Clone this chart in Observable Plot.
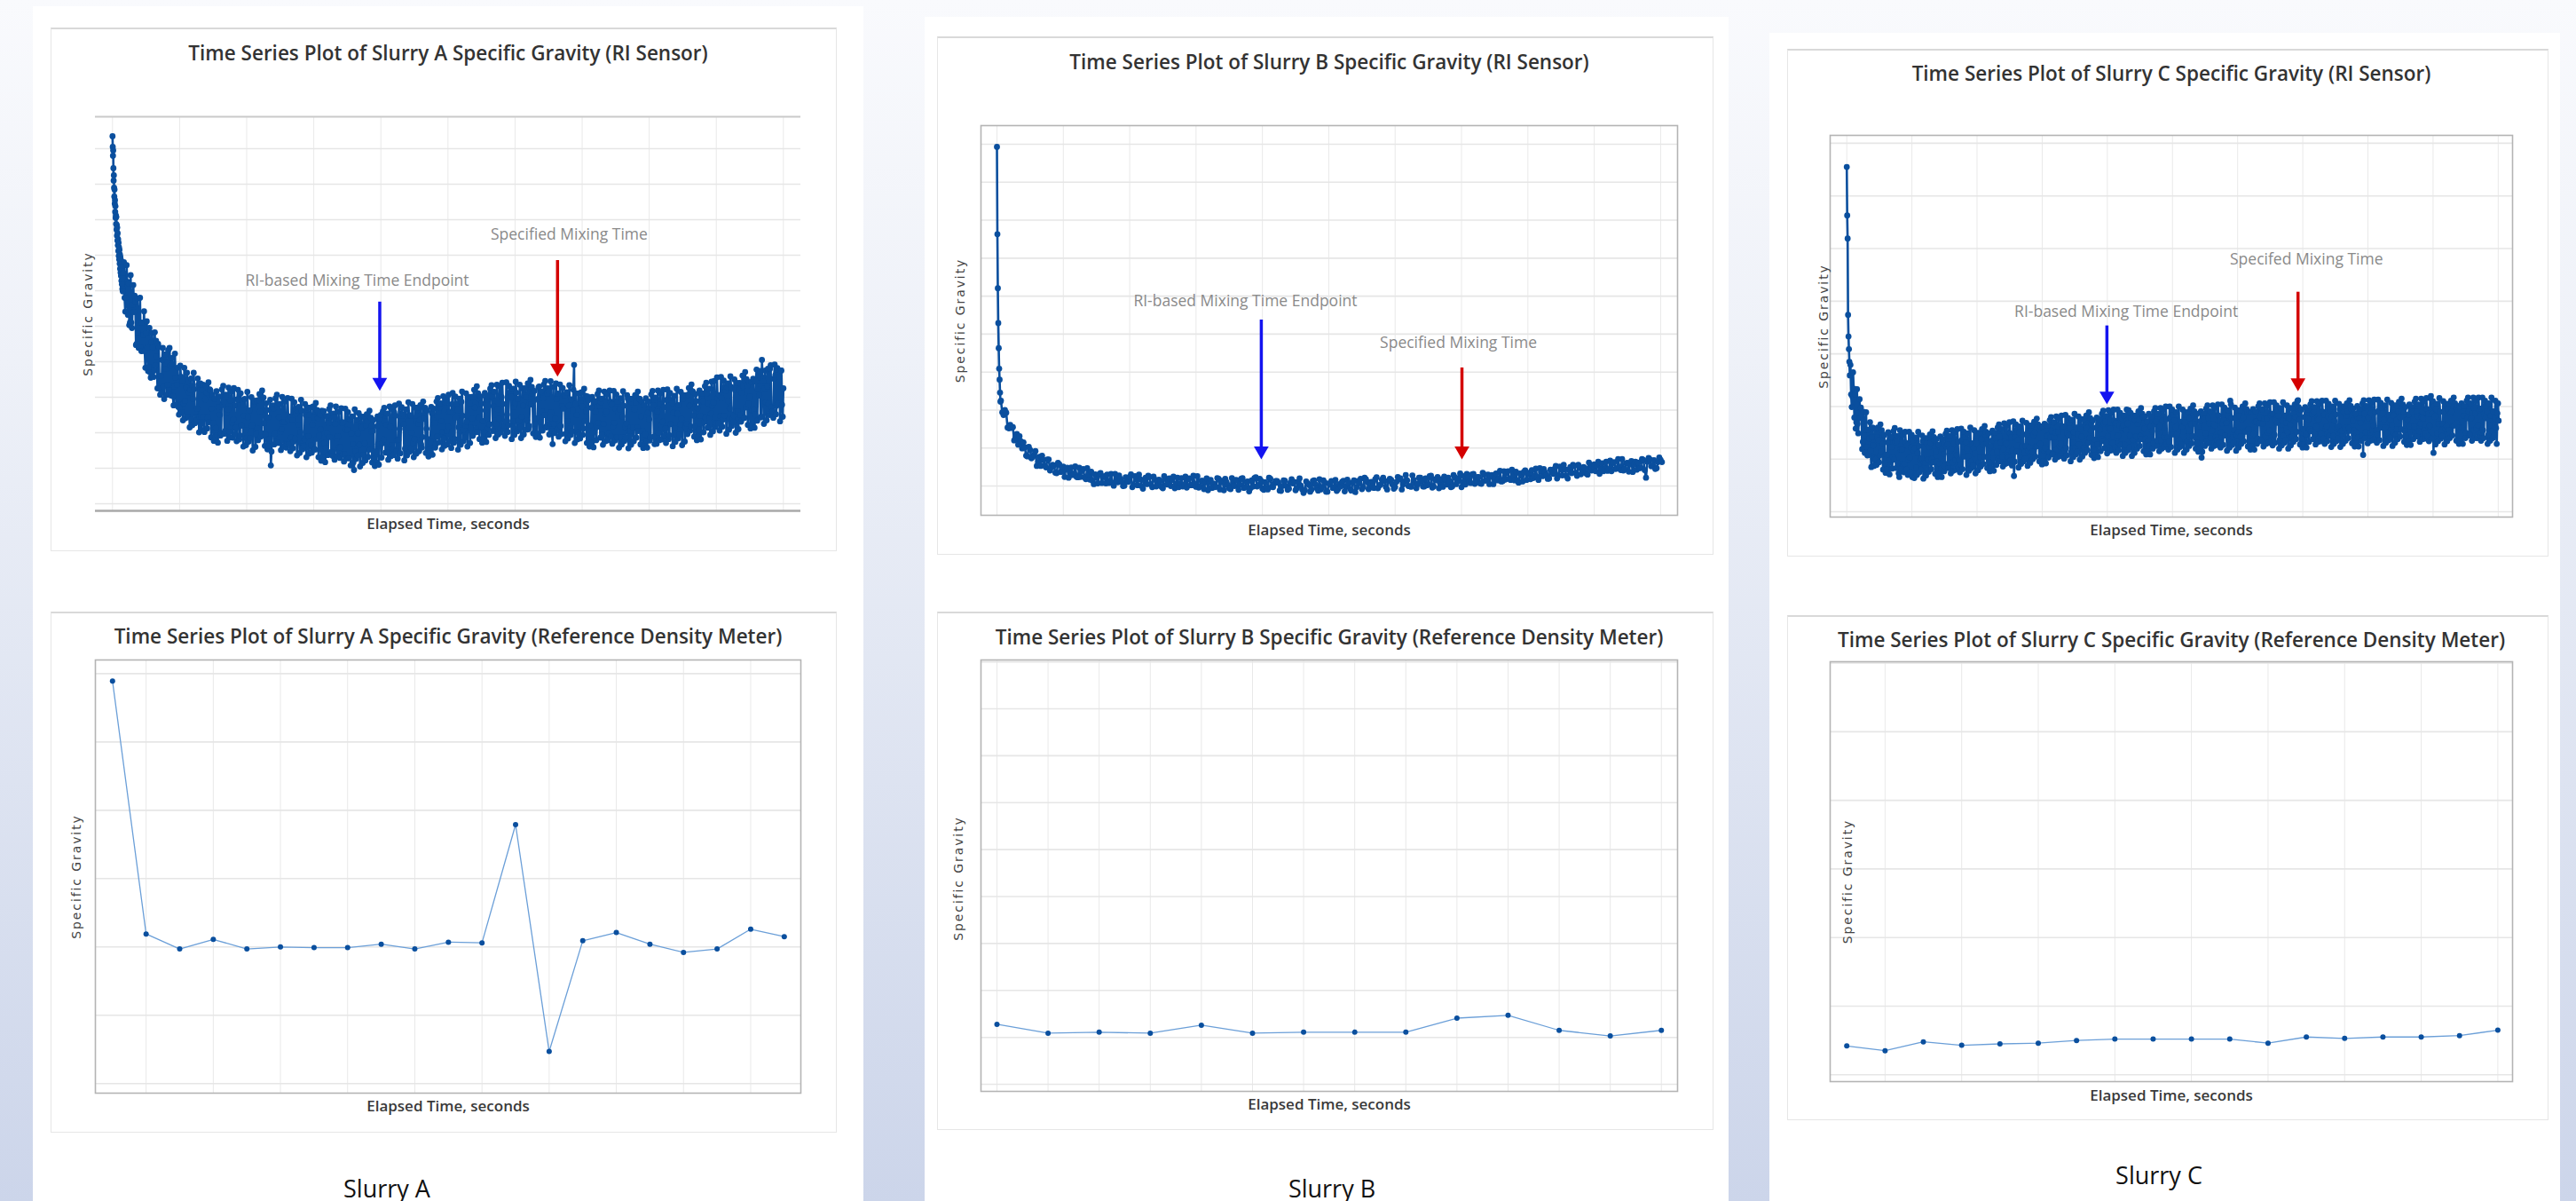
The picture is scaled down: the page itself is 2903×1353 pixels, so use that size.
<!DOCTYPE html>
<html><head><meta charset="utf-8">
<script src="https://cdn.jsdelivr.net/npm/d3@7"></script>
<script src="https://cdn.jsdelivr.net/npm/@observablehq/plot@0.6"></script>
<style>
html,body{margin:0;padding:0;}
body{width:2903px;height:1353px;overflow:hidden;position:relative;
  background:linear-gradient(180deg,#f9fafd 0%,#eef1f8 30%,#dde3f1 65%,#ccd5ea 100%);
  font-family:"Open Sans",sans-serif;}
.col{position:absolute;background:#fff;}
.card{position:absolute;background:#fff;border:1.5px solid #e6e6e6;border-top:2px solid #d9d9d9;box-sizing:border-box;}
.plotbox{position:absolute;}
.plotbox svg{display:block;}
.caption{position:absolute;transform:translate(-50%,-50%);font-size:27px;color:#111;white-space:nowrap;font-family:"Open Sans",sans-serif;}
</style></head><body>
<script>
// ---------------- DATA ----------------
// RI sensor series: a dense "head" right after start, then the band sampled every 6 s,
// plus (A, C) the readings taken half-way between those samples.
const slurryA_riHeadSG = [1.3035,1.3005,1.2980,1.2995,1.2945,1.2910,1.2925,1.2890,1.2865,1.2885,1.2845,1.2855,1.2822,1.2838,1.2805,1.2812,1.2788,1.2808,1.2772,1.2785,1.2755,1.2778,1.2741,1.2762,1.2728,1.2745,1.2712,1.2735,1.2698,1.2722,1.2688,1.2715,1.2676,1.2702,1.2662,1.2695,1.2651,1.2688,1.2642,1.2675,1.2628,1.2668,1.2618,1.2655,1.2605,1.2648,1.2598,1.2637];
const slurryA_riSG = [
1.265,1.258,1.258,1.2625,1.262,1.251,1.251,1.256,1.254,1.257,1.245,1.248,1.251,1.244,1.251,1.2475,1.243,1.248,1.244,1.2385,
1.237,1.2455,1.244,1.2375,1.239,1.2415,1.245,1.2325,1.236,1.2405,1.233,1.2415,1.238,1.2335,1.232,1.2388,1.2395,1.2303,1.233,1.2355,
1.2335,1.2273,1.227,1.2358,1.2345,1.2283,1.229,1.2328,1.2245,1.2313,1.232,1.2238,1.2295,1.2323,1.226,1.2268,1.2335,1.2245,1.2245,1.232,
1.2245,1.2294,1.2313,1.2242,1.223,1.2319,1.2268,1.2227,1.2295,1.2214,1.2193,1.2272,1.225,1.2199,1.2278,1.2287,1.2205,1.2255,1.2265,1.2203,
1.229,1.2229,1.2238,1.2277,1.2215,1.2294,1.2293,1.2192,1.222,1.2279,1.2248,1.2207,1.2185,1.2244,1.2263,1.2212,1.222,1.2279,1.2288,1.2196,
1.2213,1.2292,1.226,1.2199,1.2298,1.2227,1.2195,1.2264,1.2243,1.2182,1.2108,1.2269,1.2268,1.2197,1.2175,1.2274,1.2243,1.2202,1.221,1.223,
1.223,1.2169,1.2168,1.2237,1.2246,1.2186,1.2235,1.2175,1.2184,1.2254,1.2263,1.2223,1.2202,1.2262,1.2171,1.2181,1.225,1.219,1.219,1.225,
1.2165,1.2223,1.2244,1.2152,1.2183,1.2241,1.2192,1.221,1.2262,1.2169,1.2171,1.2158,1.2199,1.2227,1.2188,1.2146,1.2135,1.2244,1.2225,1.2182,
1.219,1.2159,1.2159,1.2229,1.2229,1.2139,1.2209,1.2208,1.2128,1.2238,1.2198,1.2168,1.2095,1.2148,1.2236,1.2198,1.2166,1.2218,1.2215,1.2138,
1.217,1.2221,1.2232,1.2153,1.2153,1.2204,1.2205,1.2126,1.2147,1.2218,1.2168,1.2239,1.225,1.217,1.2181,1.2232,1.2223,1.2154,1.2145,1.2217,
1.2165,1.2156,1.2257,1.2248,1.2179,1.218,1.2211,1.2232,1.2233,1.2224,1.2155,1.2156,1.2197,1.2248,1.2249,1.22,1.2171,1.2182,1.2233,1.2264,
1.2225,1.2236,1.2167,1.2188,1.2239,1.227,1.2211,1.2182,1.2153,1.2174,1.2255,1.2236,1.2227,1.2168,1.2189,1.226,1.2271,1.2233,1.2203,1.2184,
1.2285,1.2206,1.2217,1.2258,1.2259,1.228,1.2181,1.2182,1.2243,1.2264,1.2215,1.2206,1.2287,1.2248,1.2209,1.222,1.2231,1.2292,1.2283,1.2214,
1.224,1.2301,1.2271,1.2211,1.2202,1.2242,1.2293,1.2282,1.2233,1.2203,1.2263,1.2293,1.2213,1.2224,1.2313,1.2304,1.2275,1.2235,1.2225,1.2265,
1.224,1.2211,1.23,1.2281,1.222,1.2231,1.2251,1.2221,1.2312,1.2302,1.2233,1.2273,1.2284,1.2313,1.2295,1.2235,1.2216,1.2245,1.2276,1.2305,
1.23,1.2235,1.221,1.2285,1.228,1.231,1.229,1.2225,1.224,1.2295,1.233,1.223,1.226,1.2297,1.225,1.2217,1.231,1.2317,1.2225,1.2257,
1.2168,1.2225,1.224,1.2295,1.231,1.2206,1.2219,1.2275,1.2268,1.2305,1.2197,1.2233,1.2276,1.2213,1.2294,1.2262,1.2391,1.2281,1.225,1.2201,
1.2195,1.2283,1.2274,1.2212,1.2233,1.2261,1.2302,1.2181,1.2221,1.227,1.22,1.2289,1.2259,1.2216,1.2228,1.2275,1.2286,1.2194,1.2225,1.2253,
1.226,1.2199,1.2199,1.2288,1.2279,1.2218,1.2228,1.2267,1.2187,1.2257,1.2266,1.2187,1.2246,1.2276,1.2216,1.2226,1.2296,1.2205,1.2205,1.2285,
1.2215,1.2265,1.2285,1.2215,1.2205,1.2295,1.2246,1.2205,1.2277,1.2195,1.2177,1.2256,1.2238,1.2187,1.2268,1.2277,1.2168,1.2248,1.226,1.22,
1.228,1.2222,1.2231,1.2272,1.2212,1.2292,1.2293,1.2193,1.2224,1.2283,1.2256,1.2213,1.2197,1.2254,1.2278,1.2224,1.2239,1.2295,1.2305,1.2217,
1.2225,1.2307,1.2276,1.2218,1.2317,1.2248,1.2218,1.2289,1.2269,1.2209,1.2248,1.2299,1.2289,1.223,1.2242,1.2311,1.2283,1.2242,1.2254,1.2276,
1.2285,1.2227,1.2226,1.2297,1.2306,1.2247,1.2297,1.2237,1.2248,1.2318,1.2328,1.2289,1.2269,1.2329,1.2239,1.2249,1.232,1.226,1.226,1.2321,
1.225,1.2312,1.2331,1.2242,1.2271,1.2332,1.2282,1.2302,1.2343,1.2262,1.2264,1.2252,1.2378,1.2323,1.2305,1.2243,1.2405,1.2345,1.2325,1.2286,
1.233,1.2282,1.238,1.2271,1.226,1.2352,1.2362,1.2276,1.2283,1.2357,1.2375,1.2279,1.2325];
const slurryA_riMidSG = [
1.268,1.2541,1.2672,1.2532,1.2503,1.2644,1.2495,1.2616,1.2586,1.2447,1.2578,1.2439,1.258,1.243,1.2431,1.2542,1.2383,1.2514,1.2374,1.2495,
1.2355,1.2481,1.2357,1.2483,1.2459,1.2325,1.2441,1.2307,1.2313,1.2439,1.2295,1.2421,1.2307,1.2433,1.2439,1.2305,1.2411,1.2277,1.2423,1.2279,
1.2383,1.2251,1.2389,1.2257,1.2235,1.2383,1.2241,1.2369,1.2347,1.2215,1.2353,1.2221,1.2369,1.2227,1.2235,1.2353,1.2201,1.2339,1.2207,1.2335,
1.2202,1.2332,1.2212,1.2342,1.2322,1.2187,1.2307,1.2177,1.2187,1.2317,1.2172,1.2302,1.2192,1.2322,1.2332,1.2197,1.2307,1.2177,1.2327,1.2187,
1.2316,1.2186,1.2326,1.2196,1.2176,1.2321,1.2181,1.2311,1.2291,1.2161,1.2295,1.2165,1.2315,1.2175,1.2185,1.23,1.215,1.229,1.216,1.229,
1.2179,1.2309,1.2189,1.2319,1.2299,1.2163,1.2283,1.2153,1.2163,1.2293,1.2147,1.2277,1.2167,1.2297,1.2307,1.2171,1.2281,1.2151,1.2301,1.2161,
1.2288,1.2158,1.2298,1.2168,1.2148,1.2296,1.2156,1.2286,1.2266,1.2136,1.2273,1.2143,1.2293,1.2153,1.2163,1.2281,1.2131,1.2271,1.2141,1.2271,
1.2144,1.2274,1.2154,1.2284,1.2264,1.2131,1.2251,1.2121,1.2131,1.2261,1.2117,1.2247,1.2137,1.2267,1.2277,1.2144,1.2254,1.2124,1.2274,1.2134,
1.2259,1.2129,1.2269,1.2139,1.2119,1.2268,1.2128,1.2258,1.2238,1.2108,1.2246,1.2116,1.2266,1.2126,1.2136,1.2255,1.2105,1.2245,1.2115,1.2245,
1.2122,1.2252,1.2132,1.2262,1.2242,1.2116,1.2236,1.2106,1.2116,1.2246,1.211,1.224,1.213,1.226,1.227,1.2144,1.2254,1.2124,1.2274,1.2134,
1.2267,1.2137,1.2277,1.2147,1.2127,1.2282,1.2142,1.2272,1.2252,1.2122,1.2266,1.2136,1.2286,1.2146,1.2156,1.2281,1.2131,1.2271,1.2141,1.2271,
1.2148,1.2278,1.2158,1.2288,1.2268,1.2143,1.2263,1.2133,1.2143,1.2273,1.2138,1.2268,1.2158,1.2288,1.2298,1.2173,1.2283,1.2153,1.2303,1.2163,
1.2297,1.2167,1.2307,1.2177,1.2157,1.2312,1.2172,1.2302,1.2282,1.2152,1.2296,1.2166,1.2316,1.2176,1.2186,1.2311,1.2161,1.2301,1.2171,1.2301,
1.2191,1.2321,1.2201,1.2331,1.2311,1.2182,1.2302,1.2172,1.2182,1.2312,1.2174,1.2304,1.2194,1.2324,1.2334,1.2205,1.2315,1.2185,1.2335,1.2195,
1.2331,1.2201,1.2341,1.2211,1.2191,1.2342,1.2202,1.2332,1.2312,1.2182,1.2324,1.2194,1.2344,1.2204,1.2214,1.2335,1.2185,1.2325,1.2195,1.2325,
1.2209,1.2339,1.2219,1.2349,1.2329,1.2198,1.2318,1.2188,1.2198,1.2328,1.2186,1.2316,1.2206,1.2336,1.2346,1.2215,1.2325,1.2195,1.2345,1.2205,
1.2329,1.2199,1.2339,1.2209,1.2189,1.2336,1.2196,1.2326,1.2306,1.2176,1.2314,1.2184,1.2334,1.2194,1.2204,1.2321,1.2171,1.2311,1.2181,1.2311,
1.2184,1.2314,1.2194,1.2324,1.2304,1.2171,1.2291,1.2161,1.2171,1.2301,1.2159,1.2289,1.2179,1.2309,1.2319,1.2186,1.2296,1.2166,1.2316,1.2176,
1.2309,1.2179,1.2319,1.2189,1.2169,1.2318,1.2178,1.2308,1.2288,1.2158,1.2297,1.2167,1.2317,1.2177,1.2187,1.2306,1.2156,1.2296,1.2166,1.2296,
1.2176,1.2306,1.2186,1.2316,1.2296,1.2167,1.2287,1.2157,1.2167,1.2297,1.2158,1.2288,1.2178,1.2308,1.2318,1.2189,1.2299,1.2169,1.2319,1.2179,
1.2311,1.2181,1.2321,1.2191,1.2171,1.2322,1.2182,1.2312,1.2292,1.2162,1.2304,1.2174,1.2324,1.2184,1.2194,1.2315,1.2165,1.2305,1.2175,1.2305,
1.2196,1.2326,1.2206,1.2336,1.2316,1.2189,1.2309,1.2179,1.2189,1.2319,1.2181,1.2311,1.2201,1.2331,1.2341,1.2214,1.2324,1.2194,1.2344,1.2204,
1.2346,1.2216,1.2356,1.2226,1.2206,1.2357,1.2217,1.2347,1.2327,1.2197,1.2339,1.2209,1.2359,1.2219,1.2229,1.235,1.22,1.234,1.221,1.234,
1.2231,1.2361,1.2241,1.2371,1.2351,1.2222,1.2342,1.2212,1.2222,1.2352,1.2214,1.2344,1.2234,1.2364,1.2374,1.2245,1.2355,1.2225,1.2375,1.2235,
1.238,1.225,1.239,1.226,1.2242,1.2392,1.2252,1.2382,1.2362,1.2232,1.2375,1.2245];

const slurryB_riHeadSG = [1.1893,1.1663,1.1521,1.1429,1.1363,1.1309,1.1280,1.1246,1.1222];
const slurryB_riSG = [
1.1225,1.1194,1.1187,1.1200,1.1193,1.1154,1.1152,1.1161,1.1153,1.1155,1.1120,1.1128,1.1137,1.1109,1.1131,1.1118,1.1099,1.1115,1.1102,1.1080,
1.1078,1.1103,1.1095,1.1073,1.1077,1.1083,1.1092,1.1053,1.1063,1.1077,1.1053,1.1080,1.1069,1.1054,1.1049,1.1070,1.1070,1.1041,1.1049,1.1056,
1.1054,1.1035,1.1034,1.1061,1.1057,1.1037,1.1038,1.1051,1.1024,1.1046,1.1048,1.1022,1.1040,1.1049,1.1029,1.1032,1.1052,1.1024,1.1023,1.1048,
1.1024,1.1040,1.1045,1.1023,1.1018,1.1047,1.1030,1.1017,1.1038,1.1014,1.1005,1.1031,1.1023,1.1007,1.1031,1.1034,1.1008,1.1024,1.1026,1.1007,
1.1030,1.1008,1.1014,1.1032,1.1008,1.1001,1.1032,1.1023,1.1010,1.1028,1.1019,1.1011,1.1000,1.1001,1.1023,1.1018,1.1011,1.1024,1.1031,1.0997,
1.1003,1.1026,1.1018,1.1002,1.1030,1.1018,1.1000,1.0993,1.1015,1.1022,1.1005,1.1027,1.1024,1.1005,1.0997,1.1025,1.1017,1.0999,1.1008,1.1017,
1.1013,1.0998,1.0994,1.1026,1.1019,1.1004,1.1016,1.1020,1.1000,1.1016,1.1025,1.0994,1.1006,1.1022,1.0997,1.1007,1.1021,1.0999,1.1003,1.1025,
1.0996,1.1018,1.1020,1.1002,1.1002,1.1027,1.1005,1.0998,1.1026,1.0996,1.0999,1.1014,1.1014,1.0992,1.1010,1.1020,1.0989,1.1010,1.1016,1.0995,
1.1007,1.0997,1.0998,1.1021,1.1019,1.0991,1.1013,1.1013,1.0989,1.1019,1.1010,1.1002,1.0994,1.0992,1.1021,1.1010,1.1000,1.1016,1.1015,1.0990,
1.1003,1.1019,1.1021,1.0995,1.0997,1.1011,1.1012,1.0986,1.0994,1.1015,1.0999,1.1021,1.1023,1.0999,1.1002,1.1019,1.1014,1.0993,1.0990,1.1010,
1.0995,1.0991,1.1022,1.1019,1.0998,1.0997,1.1007,1.1013,1.1013,1.1009,1.0988,1.0987,1.1000,1.1015,1.1014,1.1000,1.0990,1.0993,1.1008,1.1018,
1.1007,1.1011,1.0989,1.0995,1.1010,1.1020,1.1001,1.0991,1.0982,1.0989,1.1012,1.1007,1.1003,1.0985,1.0991,1.1013,1.1015,1.1004,1.0994,1.0988,
1.1018,1.0991,1.0997,1.1015,1.1009,1.0985,1.0985,1.1007,1.1004,1.1013,1.0995,1.0996,1.1016,1.0987,1.0992,1.1005,1.0999,1.1011,1.1014,1.0986,
1.0999,1.1017,1.1008,1.0993,1.0988,1.1009,1.1015,1.0984,1.0997,1.1013,1.1007,1.1019,1.0992,1.0997,1.1022,1.1018,1.1010,1.0992,1.0996,1.1011,
1.1000,1.0995,1.1018,1.1023,1.0994,1.1001,1.1004,1.1017,1.1022,1.1013,1.0998,1.0991,1.1013,1.1019,1.1016,1.1004,1.0993,1.0997,1.1011,1.1024,
1.1018,1.1020,1.0991,1.1004,1.1012,1.1029,1.1015,1.1000,1.1000,1.0998,1.1028,1.1016,1.1007,1.0994,1.1004,1.1022,1.1022,1.1013,1.0999,1.0999,
1.1020,1.1002,1.1005,1.1026,1.1027,1.0996,1.0999,1.1018,1.1015,1.1024,1.0994,1.1007,1.1018,1.0998,1.1025,1.1016,1.1004,1.1022,1.1013,1.0997,
1.0999,1.1029,1.1023,1.1005,1.1012,1.1021,1.1033,1.0997,1.1010,1.1026,1.1004,1.1032,1.1022,1.1011,1.1008,1.1031,1.1032,1.1006,1.1015,1.1024,
1.1024,1.1007,1.1006,1.1035,1.1031,1.1014,1.1016,1.1030,1.1005,1.1026,1.1029,1.1005,1.1024,1.1033,1.1015,1.1019,1.1040,1.1012,1.1013,1.1039,
1.1017,1.1034,1.1039,1.1019,1.1016,1.1043,1.1029,1.1015,1.1038,1.1014,1.1009,1.1033,1.1027,1.1012,1.1037,1.1041,1.1016,1.1032,1.1035,1.1018,
1.1042,1.1021,1.1028,1.1046,1.1023,1.1016,1.1047,1.1038,1.1026,1.1045,1.1036,1.1029,1.1019,1.1020,1.1043,1.1038,1.1032,1.1045,1.1053,1.1020,
1.1027,1.1051,1.1043,1.1028,1.1056,1.1044,1.1027,1.1020,1.1043,1.1050,1.1034,1.1056,1.1053,1.1035,1.1027,1.1056,1.1049,1.1031,1.1040,1.1050,
1.1047,1.1033,1.1030,1.1062,1.1055,1.1041,1.1053,1.1057,1.1039,1.1054,1.1064,1.1032,1.1047,1.1060,1.1039,1.1046,1.1064,1.1040,1.1044,1.1067,
1.1039,1.1061,1.1063,1.1045,1.1046,1.1071,1.1050,1.1042,1.1071,1.1041,1.1045,1.1060,1.1061,1.1038,1.1058,1.1066,1.1037,1.1058,1.1064,1.1043,
1.1062,1.1047,1.1048,1.1071,1.1069,1.1042,1.1022,1.1064,1.1074,1.1070,1.1052,1.1054,1.1068,1.1045,1.1047,1.1063,1.1075,1.1069,1.1063];

const slurryC_riHeadSG = [1.2055,1.1963,1.1919,1.1774,1.1733,1.1709,1.1685];
const slurryC_riSG = [
1.1659,1.1623,1.1619,1.1634,1.1623,1.1570,1.1567,1.1588,1.1578,1.1585,1.1533,1.1545,1.1556,1.1523,1.1556,1.1539,1.1516,1.1542,1.1526,1.1502,
1.1500,1.1542,1.1536,1.1507,1.1515,1.1529,1.1546,1.1492,1.1508,1.1532,1.1498,1.1540,1.1523,1.1505,1.1499,1.1532,1.1534,1.1492,1.1466,1.1518,
1.1518,1.1490,1.1491,1.1531,1.1526,1.1499,1.1503,1.1522,1.1466,1.1517,1.1521,1.1484,1.1512,1.1525,1.1498,1.1502,1.1534,1.1493,1.1493,1.1530,
1.1499,1.1523,1.1531,1.1500,1.1494,1.1536,1.1514,1.1495,1.1527,1.1491,1.1482,1.1519,1.1510,1.1487,1.1524,1.1528,1.1493,1.1516,1.1520,1.1494,
1.1530,1.1498,1.1507,1.1533,1.1499,1.1490,1.1536,1.1523,1.1505,1.1532,1.1520,1.1506,1.1492,1.1495,1.1530,1.1521,1.1511,1.1530,1.1544,1.1494,
1.1504,1.1538,1.1527,1.1505,1.1547,1.1529,1.1502,1.1494,1.1525,1.1535,1.1512,1.1545,1.1540,1.1514,1.1500,1.1543,1.1532,1.1505,1.1519,1.1533,
1.1530,1.1507,1.1503,1.1549,1.1541,1.1517,1.1468,1.1541,1.1514,1.1537,1.1551,1.1505,1.1524,1.1547,1.1512,1.1525,1.1548,1.1516,1.1522,1.1554,
1.1514,1.1546,1.1551,1.1524,1.1525,1.1560,1.1529,1.1520,1.1562,1.1517,1.1521,1.1544,1.1544,1.1513,1.1541,1.1554,1.1509,1.1542,1.1551,1.1519,
1.1552,1.1524,1.1530,1.1559,1.1562,1.1516,1.1521,1.1549,1.1545,1.1558,1.1514,1.1532,1.1551,1.1521,1.1560,1.1547,1.1528,1.1557,1.1543,1.1521,
1.1521,1.1564,1.1559,1.1531,1.1540,1.1554,1.1572,1.1518,1.1537,1.1560,1.1528,1.1570,1.1556,1.1538,1.1534,1.1568,1.1571,1.1531,1.1544,1.1558,
1.1558,1.1532,1.1531,1.1573,1.1568,1.1541,1.1545,1.1564,1.1527,1.1559,1.1564,1.1527,1.1555,1.1568,1.1593,1.1545,1.1578,1.1536,1.1537,1.1574,
1.1543,1.1567,1.1575,1.1544,1.1538,1.1580,1.1558,1.1539,1.1571,1.1535,1.1526,1.1562,1.1553,1.1530,1.1567,1.1571,1.1536,1.1558,1.1563,1.1536,
1.1573,1.1542,1.1550,1.1576,1.1541,1.1533,1.1579,1.1565,1.1547,1.1574,1.1561,1.1547,1.1533,1.1536,1.1571,1.1561,1.1552,1.1570,1.1584,1.1534,
1.1543,1.1578,1.1566,1.1544,1.1584,1.1567,1.1539,1.1531,1.1562,1.1572,1.1503,1.1581,1.1576,1.1549,1.1535,1.1578,1.1568,1.1540,1.1554,1.1567,
1.1564,1.1542,1.1536,1.1583,1.1573,1.1551,1.1568,1.1574,1.1545,1.1569,1.1583,1.1537,1.1611,1.1578,1.1542,1.1555,1.1579,1.1546,1.1552,1.1583,
1.1543,1.1576,1.1579,1.1553,1.1552,1.1589,1.1557,1.1548,1.1589,1.1544,1.1548,1.1571,1.1571,1.1539,1.1568,1.1580,1.1536,1.1567,1.1577,1.1544,
1.1577,1.1550,1.1554,1.1584,1.1586,1.1541,1.1546,1.1573,1.1569,1.1582,1.1537,1.1555,1.1573,1.1544,1.1583,1.1569,1.1551,1.1578,1.1565,1.1542,
1.1543,1.1586,1.1580,1.1552,1.1612,1.1575,1.1593,1.1539,1.1557,1.1580,1.1548,1.1589,1.1576,1.1557,1.1553,1.1586,1.1590,1.1548,1.1562,1.1575,
1.1576,1.1549,1.1549,1.1590,1.1585,1.1558,1.1562,1.1581,1.1544,1.1576,1.1581,1.1544,1.1572,1.1585,1.1558,1.1562,1.1595,1.1553,1.1554,1.1590,
1.1559,1.1582,1.1591,1.1559,1.1554,1.1595,1.1573,1.1554,1.1586,1.1550,1.1541,1.1577,1.1569,1.1545,1.1508,1.1586,1.1551,1.1573,1.1578,1.1550,
1.1587,1.1555,1.1564,1.1589,1.1555,1.1546,1.1592,1.1578,1.1560,1.1587,1.1575,1.1560,1.1546,1.1549,1.1584,1.1574,1.1565,1.1583,1.1597,1.1546,
1.1557,1.1591,1.1580,1.1557,1.1598,1.1580,1.1553,1.1544,1.1576,1.1585,1.1562,1.1594,1.1590,1.1562,1.1549,1.1591,1.1581,1.1553,1.1567,1.1580,
1.1577,1.1554,1.1549,1.1595,1.1586,1.1563,1.1620,1.1586,1.1512,1.1581,1.1595,1.1549,1.1567,1.1590,1.1554,1.1567,1.1590,1.1558,1.1563,1.1595,
1.1555,1.1587,1.1591,1.1564,1.1564,1.1600,1.1568,1.1559,1.1600,1.1555,1.1559,1.1582,1.1582,1.1550,1.1578,1.1591,1.1546,1.1578,1.1587,1.1555,
1.1587,1.1559,1.1564,1.1593,1.1596,1.1550,1.1555,1.1582,1.1578,1.1591,1.1546,1.1564,1.1582,1.1553,1.1591,1.1578,1.1559,1.1587,1.1573];
const slurryC_riMidSG = [
1.1679,1.1599,1.1665,1.1579,1.1558,1.1633,1.1549,1.1614,1.1598,1.1519,1.1590,1.1512,1.1589,1.1507,1.1508,1.1570,1.1485,1.1560,1.1487,1.1557,
1.1489,1.1560,1.1494,1.1566,1.1555,1.1480,1.1546,1.1474,1.1480,1.1551,1.1471,1.1543,1.1482,1.1553,1.1559,1.1483,1.1544,1.1473,1.1555,1.1478,
1.1546,1.1475,1.1552,1.1480,1.1470,1.1552,1.1475,1.1546,1.1536,1.1464,1.1541,1.1470,1.1552,1.1475,1.1480,1.1545,1.1463,1.1540,1.1469,1.1540,
1.1476,1.1547,1.1481,1.1553,1.1542,1.1472,1.1538,1.1466,1.1472,1.1543,1.1466,1.1538,1.1477,1.1548,1.1554,1.1483,1.1544,1.1473,1.1555,1.1478,
1.1551,1.1480,1.1557,1.1485,1.1475,1.1558,1.1481,1.1552,1.1542,1.1470,1.1549,1.1478,1.1560,1.1483,1.1488,1.1555,1.1473,1.1550,1.1479,1.1550,
1.1486,1.1557,1.1491,1.1563,1.1552,1.1483,1.1549,1.1477,1.1483,1.1554,1.1478,1.1550,1.1489,1.1560,1.1566,1.1496,1.1557,1.1486,1.1568,1.1491,
1.1564,1.1493,1.1570,1.1498,1.1488,1.1572,1.1495,1.1566,1.1556,1.1484,1.1562,1.1491,1.1573,1.1496,1.1501,1.1569,1.1487,1.1564,1.1493,1.1564,
1.1500,1.1571,1.1505,1.1577,1.1566,1.1496,1.1562,1.1490,1.1496,1.1567,1.1492,1.1564,1.1503,1.1574,1.1580,1.1509,1.1570,1.1499,1.1581,1.1504,
1.1577,1.1506,1.1583,1.1511,1.1501,1.1584,1.1507,1.1578,1.1568,1.1496,1.1575,1.1504,1.1586,1.1509,1.1514,1.1581,1.1499,1.1576,1.1505,1.1576,
1.1512,1.1583,1.1517,1.1589,1.1578,1.1508,1.1574,1.1502,1.1508,1.1579,1.1504,1.1576,1.1515,1.1586,1.1592,1.1521,1.1582,1.1511,1.1593,1.1516,
1.1588,1.1517,1.1594,1.1522,1.1512,1.1594,1.1517,1.1588,1.1578,1.1506,1.1583,1.1512,1.1594,1.1517,1.1522,1.1588,1.1506,1.1583,1.1512,1.1583,
1.1520,1.1591,1.1525,1.1597,1.1586,1.1515,1.1581,1.1509,1.1515,1.1586,1.1509,1.1581,1.1520,1.1591,1.1597,1.1525,1.1586,1.1515,1.1597,1.1520,
1.1594,1.1523,1.1600,1.1528,1.1518,1.1600,1.1523,1.1594,1.1584,1.1512,1.1589,1.1518,1.1600,1.1523,1.1528,1.1594,1.1512,1.1589,1.1518,1.1589,
1.1525,1.1596,1.1530,1.1602,1.1591,1.1520,1.1586,1.1514,1.1520,1.1591,1.1514,1.1586,1.1525,1.1596,1.1602,1.1530,1.1591,1.1520,1.1602,1.1525,
1.1598,1.1527,1.1604,1.1532,1.1522,1.1604,1.1527,1.1598,1.1588,1.1516,1.1593,1.1522,1.1604,1.1527,1.1532,1.1598,1.1516,1.1593,1.1522,1.1593,
1.1529,1.1600,1.1534,1.1606,1.1595,1.1524,1.1590,1.1518,1.1524,1.1595,1.1518,1.1590,1.1529,1.1600,1.1606,1.1534,1.1595,1.1524,1.1606,1.1529,
1.1602,1.1531,1.1608,1.1536,1.1526,1.1608,1.1531,1.1602,1.1592,1.1520,1.1597,1.1526,1.1608,1.1531,1.1536,1.1602,1.1520,1.1597,1.1526,1.1597,
1.1533,1.1604,1.1538,1.1610,1.1599,1.1528,1.1594,1.1522,1.1528,1.1599,1.1522,1.1594,1.1533,1.1604,1.1610,1.1538,1.1599,1.1528,1.1610,1.1533,
1.1605,1.1534,1.1611,1.1539,1.1529,1.1611,1.1534,1.1605,1.1595,1.1523,1.1600,1.1529,1.1611,1.1534,1.1539,1.1605,1.1523,1.1600,1.1529,1.1600,
1.1535,1.1606,1.1540,1.1612,1.1601,1.1530,1.1596,1.1524,1.1530,1.1601,1.1524,1.1596,1.1535,1.1606,1.1612,1.1540,1.1601,1.1530,1.1612,1.1535,
1.1607,1.1536,1.1613,1.1541,1.1531,1.1613,1.1536,1.1607,1.1597,1.1525,1.1602,1.1531,1.1613,1.1536,1.1541,1.1607,1.1525,1.1602,1.1531,1.1602,
1.1538,1.1609,1.1543,1.1615,1.1604,1.1533,1.1599,1.1527,1.1533,1.1604,1.1527,1.1599,1.1538,1.1609,1.1615,1.1543,1.1604,1.1533,1.1615,1.1538,
1.1610,1.1539,1.1616,1.1544,1.1534,1.1616,1.1539,1.1610,1.1600,1.1528,1.1605,1.1534,1.1616,1.1539,1.1544,1.1610,1.1528,1.1605,1.1534,1.1605,
1.1540,1.1611,1.1545,1.1617,1.1606,1.1535,1.1601,1.1529,1.1535,1.1606,1.1529,1.1601,1.1540,1.1611,1.1617,1.1545,1.1606,1.1535,1.1617,1.1540,
1.1611,1.1540,1.1617,1.1545,1.1535,1.1617,1.1540,1.1611,1.1601,1.1529,1.1606,1.1535,1.1617,1.1540,1.1545,1.1611,1.1529,1.1606];

// sampling of the RI series (seconds)
const slurryA_riSampling = {headStep: 1, bandStart: 48, bandStep: 6, midOffset: 3};
const slurryB_riSampling = {headStep: 2, bandStart: 18, bandStep: 6, midOffset: 3};
const slurryC_riSampling = {headStep: 2, bandStart: 14, bandStep: 6, midOffset: 3};

// Reference density meter series
const slurryA_refTime = [0,150,300,450,600,750,900,1050,1200,1350,1500,1650,1800,1950,2100,2250,2400,2550,2700,2850,3000];
const slurryA_refSG = [1.2489,1.2119,1.2097,1.2111,1.2097,1.2100,1.2099,1.2099,1.2104,1.2097,1.2107,1.2106,1.2279,1.1947,1.2109,1.2121,1.2104,1.2092,1.2097,1.2126,1.2115];
const slurryB_refTime = [0,230,460,690,920,1150,1380,1610,1840,2070,2300,2530,2760,2990];
const slurryB_refSG = [1.1028,1.1009,1.1011,1.1009,1.1026,1.1009,1.1011,1.1011,1.1011,1.1041,1.1047,1.1015,1.1003,1.1015];
const slurryC_refTime = [0,175,350,525,700,875,1050,1225,1400,1575,1750,1925,2100,2275,2450,2625,2800,2975];
const slurryC_refSG = [1.1442,1.1435,1.1448,1.1443,1.1445,1.1446,1.1450,1.1452,1.1452,1.1452,1.1452,1.1446,1.1455,1.1453,1.1455,1.1455,1.1457,1.1465];

// Annotations (time in s, SG)
const arrowLabels = ["RI-based Mixing Time Endpoint", "Specified Mixing Time"];
const slurryC_arrowLabels = ["RI-based Mixing Time Endpoint", "Specifed Mixing Time"];
const slurryA_arrowTime = [1195, 1990];
const slurryA_arrowFrom = [1.2553, 1.2670];
const slurryA_arrowTo = [1.2320, 1.2360];
const slurryA_labelTime = [1094, 2042];
const slurryA_labelSG = [1.2628, 1.2758];
const slurryB_arrowTime = [1195, 2102];
const slurryB_arrowFrom = [1.1423, 1.1297];
const slurryB_arrowTo = [1.1072, 1.1072];
const slurryB_labelTime = [1123, 2086];
const slurryB_labelSG = [1.1486, 1.1376];
const slurryC_arrowTime = [1198, 2078];
const slurryC_arrowFrom = [1.1743, 1.1807];
const slurryC_arrowTo = [1.1605, 1.1630];
const slurryC_labelTime = [1287, 2117];
const slurryC_labelSG = [1.1780, 1.1879];

// Gridline (tick) values
const timeTicks = [0,300,600,900,1200,1500,1800,2100,2400,2700,3000];
const slurryA_riTicks = [1.20,1.21,1.22,1.23,1.24,1.25,1.26,1.27,1.28,1.29,1.30];
const slurryB_riTicks = [1.10,1.11,1.12,1.13,1.14,1.15,1.16,1.17,1.18,1.19];
const slurryC_riTicks = [1.14,1.15,1.16,1.17,1.18,1.19,1.20,1.21];
const slurryA_refTicks = [1.19,1.20,1.21,1.22,1.23,1.24,1.25];
const slurryB_refTicks = [1.09,1.10,1.11,1.12,1.13,1.14,1.15,1.16,1.17,1.18];
const slurryC_refTicks = [1.14,1.15,1.16,1.17,1.18,1.19,1.20];
const slurryA_refTimeTicks = [150,450,750,1050,1350,1650,1950,2250,2550,2850];
const slurryB_refTimeTicks = slurryB_refTime;
const slurryC_refTimeTicks = [175,525,875,1225,1575,1925,2275,2625,2975];

// Texts
const riTitles = ["Time Series Plot of Slurry A Specific Gravity (RI Sensor)","Time Series Plot of Slurry B Specific Gravity (RI Sensor)","Time Series Plot of Slurry C Specific Gravity (RI Sensor)"];
const refTitles = ["Time Series Plot of Slurry A Specific Gravity (Reference Density Meter)","Time Series Plot of Slurry B Specific Gravity (Reference Density Meter)","Time Series Plot of Slurry C Specific Gravity (Reference Density Meter)"];
const xLabel = "Elapsed Time, seconds";
const yLabel = "Specific Gravity";
const captions = ["Slurry A","Slurry B","Slurry C"];

// ---------------- BUILD ----------------
function riRows(head, band, mid, s) {
  const rows = head.map((sg, i) => ({t: i * s.headStep, sg}));
  band.forEach((sg, i) => rows.push({t: s.bandStart + i * s.bandStep, sg}));
  mid.forEach((sg, i) => rows.push({t: s.bandStart + s.midOffset + i * s.bandStep, sg}));
  return rows.sort((a, b) => a.t - b.t);
}
function zipRows(times, values) { return times.map((t, i) => ({t, sg: values[i]})); }
function notes(times, from, to, lt, ls, labels) {
  return times.map((t, i) => ({t, from: from[i], to: to[i], lt: lt[i], ls: ls[i], label: labels[i]}));
}

const FONT = "Open Sans, sans-serif";
const ARROW_COLORS = ["#1414f0", "#d40000"];

function addBox(cls, l, t, w, h) {
  const d = document.createElement("div");
  d.className = cls;
  Object.assign(d.style, {left: l + "px", top: t + "px", width: w + "px", height: h + "px"});
  document.body.appendChild(d);
  return d;
}

function panel(cfg) {
  const card = cfg.card, fr = cfg.frame;
  addBox("card", card[0], card[1], card[2] - card[0], card[3] - card[1]);
  const marks = [
    Plot.gridX(cfg.xTicks, {stroke: "#e9e9e9", strokeOpacity: 1, strokeWidth: 1}),
    Plot.gridY(cfg.yTicks, {stroke: "#e6e6e6", strokeOpacity: 1, strokeWidth: 1.6})
  ];
  if (cfg.openFrame) {
    marks.push(Plot.ruleY([cfg.yDomain[1]], {stroke: "#cacaca", strokeWidth: 2}));
    marks.push(Plot.ruleY([cfg.yDomain[0]], {stroke: "#a9a9a9", strokeWidth: 2.5}));
  } else {
    marks.push(Plot.frame({stroke: "#b4b4b4", strokeWidth: 1.6}));
  }
  marks.push(Plot.line(cfg.rows, {x: "t", y: "sg", stroke: cfg.lineColor, strokeWidth: cfg.lineWidth, strokeLinejoin: "round"}));
  marks.push(Plot.dot(cfg.rows, {x: "t", y: "sg", r: cfg.r, fill: "#0a4f9e", stroke: "none"}));
  if (cfg.notes) {
    cfg.notes.forEach((n, i) => {
      marks.push(Plot.ruleX([n], {x: "t", y1: "from", y2: "to", stroke: ARROW_COLORS[i], strokeWidth: 3.5, dy: -6}));
      marks.push(Plot.dot([n], {x: "t", y: "to", symbol: "triangle", rotate: 180, r: 6.2, fill: ARROW_COLORS[i], stroke: "none", dy: -9}));
    });
    marks.push(Plot.text(cfg.notes, {x: "lt", y: "ls", text: "label", fill: "#8a8a8a", fontSize: 17.5, fontFamily: FONT}));
  }
  marks.push(Plot.text([cfg.title], {frameAnchor: "top", dy: cfg.titleDy, text: d => d, fontSize: 22.5, fontWeight: 600, fill: "#333", fontFamily: FONT, lineAnchor: "middle"}));
  marks.push(Plot.text([xLabel], {frameAnchor: "bottom", dy: cfg.xLabelDy, text: d => d, fontSize: 17, fontWeight: 600, fill: "#3a3a3a", fontFamily: FONT, lineAnchor: "middle"}));
  marks.push(Plot.text([yLabel], {frameAnchor: "left", dx: cfg.yLabelDx, dy: cfg.yLabelDy || 0, rotate: -90, text: d => d, fontSize: 14, fill: "#444", fontFamily: "DejaVu Sans, Verdana, sans-serif", textAnchor: "middle", lineAnchor: "middle"}));

  const W = card[2] - card[0], H = card[3] - card[1];
  const svg = Plot.plot({
    width: W, height: H,
    marginLeft: fr[0] - card[0], marginRight: card[2] - fr[2],
    marginTop: fr[1] - card[1], marginBottom: card[3] - fr[3],
    x: {domain: cfg.xDomain, axis: null},
    y: {domain: cfg.yDomain, axis: null},
    style: {background: "transparent", overflow: "visible", fontFamily: FONT},
    marks
  });
  // widen the letter spacing of the y-axis title, as in the original
  d3.select(svg).selectAll("text").filter(function() { return this.textContent === yLabel; })
    .attr("letter-spacing", "1.9px");
  const box = addBox("plotbox", card[0], card[1], W, H);
  box.appendChild(svg);
}

// white column backgrounds
addBox("col", 37, 7, 936, 1346);
addBox("col", 1042, 19, 906, 1334);
addBox("col", 1994, 37, 891, 1316);

const riA = riRows(slurryA_riHeadSG, slurryA_riSG, slurryA_riMidSG, slurryA_riSampling);
const riB = riRows(slurryB_riHeadSG, slurryB_riSG, [], slurryB_riSampling);
const riC = riRows(slurryC_riHeadSG, slurryC_riSG, slurryC_riMidSG, slurryC_riSampling);

panel({card: [57, 31, 943, 621], frame: [107, 131, 902, 575], openFrame: true,
  xDomain: [-76.6, 3078], yDomain: [1.198, 1.309], xTicks: timeTicks, yTicks: slurryA_riTicks,
  rows: riA, r: 3.4, lineColor: "#0a4f9e", lineWidth: 2.6,
  notes: notes(slurryA_arrowTime, slurryA_arrowFrom, slurryA_arrowTo, slurryA_labelTime, slurryA_labelSG, arrowLabels),
  title: riTitles[0], titleDy: -71, xLabelDy: 15, yLabelDx: -8});
panel({card: [1056, 41, 1931, 625], frame: [1105, 141, 1890, 580],
  xDomain: [-72.2, 3076.6], yDomain: [1.0923, 1.1949], xTicks: timeTicks, yTicks: slurryB_riTicks,
  rows: riB, r: 3.4, lineColor: "#0a4f9e", lineWidth: 2.6,
  notes: notes(slurryB_arrowTime, slurryB_arrowFrom, slurryB_arrowTo, slurryB_labelTime, slurryB_labelSG, arrowLabels),
  title: riTitles[1], titleDy: -71, xLabelDy: 17, yLabelDx: -23});
panel({card: [2014, 55, 2872, 627], frame: [2062, 152, 2831, 582],
  xDomain: [-76.4, 3066], yDomain: [1.139, 1.2115], xTicks: timeTicks, yTicks: slurryC_riTicks,
  rows: riC, r: 3.4, lineColor: "#0a4f9e", lineWidth: 2.6,
  notes: notes(slurryC_arrowTime, slurryC_arrowFrom, slurryC_arrowTo, slurryC_labelTime, slurryC_labelSG, slurryC_arrowLabels),
  title: riTitles[2], titleDy: -69, xLabelDy: 15, yLabelDx: -7});

panel({card: [57, 689, 943, 1276], frame: [107, 743, 902, 1231],
  xDomain: [-76.5, 3074], yDomain: [1.1886, 1.252], xTicks: slurryA_refTimeTicks, yTicks: slurryA_refTicks,
  rows: zipRows(slurryA_refTime, slurryA_refSG), r: 3, lineColor: "#6b9fd8", lineWidth: 1.3,
  title: refTitles[0], titleDy: -26, xLabelDy: 15, yLabelDx: -21});
panel({card: [1056, 689, 1931, 1273], frame: [1105, 743, 1890, 1229],
  xDomain: [-71.9, 3062.8], yDomain: [1.0885, 1.1804], xTicks: slurryB_refTimeTicks, yTicks: slurryB_refTicks,
  rows: zipRows(slurryB_refTime, slurryB_refSG), r: 3, lineColor: "#6b9fd8", lineWidth: 1.3,
  title: refTitles[1], titleDy: -25, xLabelDy: 15, yLabelDx: -25, yLabelDy: 3});
panel({card: [2014, 693, 2872, 1262], frame: [2062, 745, 2831, 1218],
  xDomain: [-75.8, 3042.3], yDomain: [1.139, 1.2002], xTicks: slurryC_refTimeTicks, yTicks: slurryC_refTicks,
  rows: zipRows(slurryC_refTime, slurryC_refSG), r: 3, lineColor: "#6b9fd8", lineWidth: 1.3,
  title: refTitles[2], titleDy: -24, xLabelDy: 16, yLabelDx: 20, yLabelDy: 11});

// captions
[[436, 1338], [1501, 1338], [2433, 1323]].forEach(([x, y], i) => {
  const d = document.createElement("div");
  d.className = "caption";
  d.textContent = captions[i];
  d.style.left = x + "px"; d.style.top = y + "px";
  document.body.appendChild(d);
});
</script>
</body></html>
